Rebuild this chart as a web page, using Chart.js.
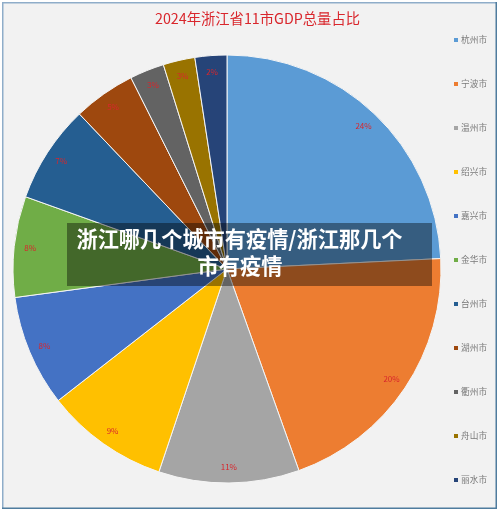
<!DOCTYPE html>
<html><head><meta charset="utf-8">
<style>html,body{margin:0;padding:0;background:#fff}canvas{display:block}</style>
<script src="https://cdn.jsdelivr.net/npm/chart.js@4"></script>
</head><body><canvas id="c" width="500" height="510"></canvas>
<script>
const cities = ['杭州市','宁波市','温州市','绍兴市','嘉兴市','金华市','台州市','湖州市','衢州市','舟山市','丽水市'];
const shares = [24.2,20.3,10.6,9.3,8.4,7.6,7.4,4.7,2.6,2.4,2.4];
const shareLabels = ['24%','20%','11%','9%','8%','8%','7%','5%','3%','3%','2%'];
const colors = ['#5B9BD5','#ED7D31','#A5A5A5','#FFC000','#4472C4','#70AD47','#255E91','#9E480E','#636363','#997300','#264478'];
const titleText = '2024年浙江省11市GDP总量占比';
const bannerLines = ['浙江哪几个城市有疫情/浙江那几个','市有疫情'];
const FONT = '"Noto Sans CJK SC","Noto Sans",sans-serif';

const frame = {id:'frame', beforeDraw(ch){
  const g=ch.ctx; g.save();
  g.fillStyle='#fff'; g.fillRect(0,0,500,510);
  g.fillStyle='#f2f2f2'; g.fillRect(3,3,493,505);
  g.fillStyle='#8fadc9'; g.fillRect(2,2,495,1.5); g.fillRect(2,2,1.5,507);
  g.fillStyle='#4f7c9e'; g.fillRect(2,507.5,495,1.5); g.fillRect(495.5,2,1.5,507);
  g.fillStyle='#d9262c'; g.font='14.3px '+FONT; g.textAlign='center'; g.textBaseline='middle';
  g.fillText(titleText,257.5,19);
  g.font='8.7px '+FONT; g.textAlign='left';
  cities.forEach((t,i)=>{
    const y=40+44*i;
    g.fillStyle=colors[i]; g.fillRect(454,y-2,4,4);
    g.fillStyle='#7a7a7a'; g.fillText(t,461,y);
  });
  g.restore();
}};
const sliceLabels = {id:'sliceLabels', afterDatasetsDraw(ch){
  const g=ch.ctx, arcs=ch.getDatasetMeta(0).data;
  g.save(); g.font='8px '+FONT; g.fillStyle='#d8262c'; g.textAlign='center'; g.textBaseline='middle';
  arcs.forEach((a,i)=>{
    const m=(a.startAngle+a.endAngle)/2, r=a.outerRadius*0.925;
    g.fillText(shareLabels[i], a.x+Math.cos(m)*r, a.y+Math.sin(m)*r);
  });
  g.restore();
}};
const banner = {id:'banner', afterDraw(ch){
  const g=ch.ctx; g.save();
  g.fillStyle='rgba(0,0,0,0.4)'; g.fillRect(67,223,365,63);
  g.fillStyle='#fff'; g.font='bold 21.2px '+FONT; g.textAlign='center'; g.textBaseline='middle';
  g.fillText(bannerLines[0],239.5,239); g.fillText(bannerLines[1],240,266);
  g.restore();
}};
new Chart(document.getElementById('c'),{
  type:'pie',
  data:{labels:cities,datasets:[{data:shares,backgroundColor:colors,borderColor:'#f5f5f5',borderWidth:1,clip:false}]},
  plugins:[frame,sliceLabels,banner],
  options:{
    responsive:false,animation:false,radius:214,
    layout:{padding:{left:13,right:59,top:55,bottom:27}},
    plugins:{tooltip:{enabled:false},title:{display:false},legend:{display:false}}
  }
});
</script></body></html>
